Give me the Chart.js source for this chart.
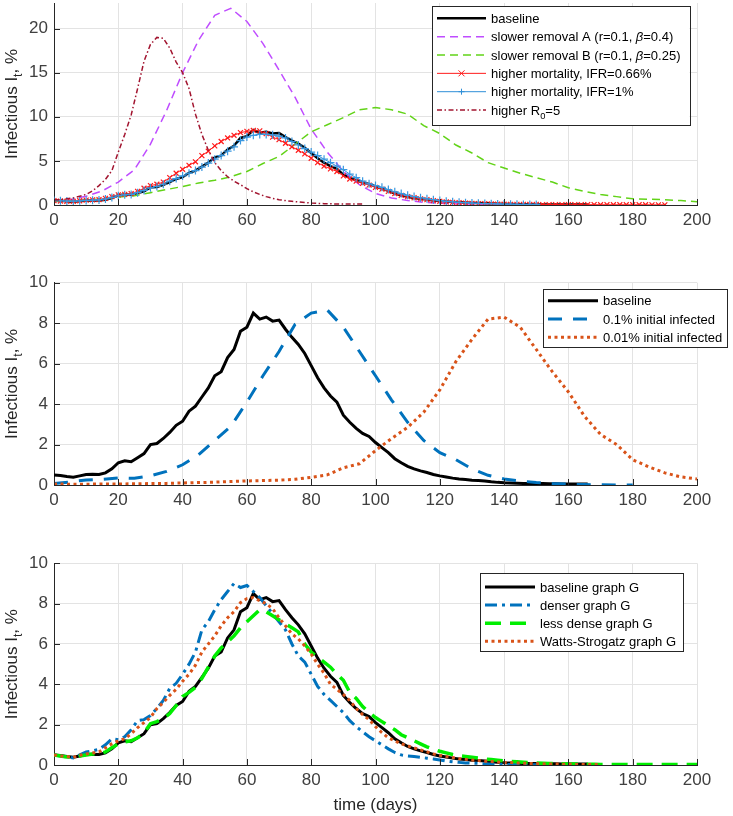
<!DOCTYPE html>
<html>
<head>
<meta charset="utf-8">
<script src="https://cdn.jsdelivr.net/npm/chart.js@4/dist/chart.umd.min.js"></script>
<style>
  html, body { margin: 0; padding: 0; background: #fff; }
  #wrap { position: relative; width: 733px; height: 816px; overflow: hidden; }
  canvas { position: absolute; left: 0; }
</style>
</head>
<body>
<div id="wrap">
  <canvas id="c1" width="733" height="255" style="top:-20px"></canvas>
  <canvas id="c2" width="733" height="265" style="top:250px"></canvas>
  <canvas id="c3" width="733" height="286" style="top:530px"></canvas>
</div>
<script>
// day grids for each simulated series
const dayRange = (a, b, step) => { const r = []; for (let d = a; d <= b; d += step) r.push(d); return r; };

// ---- shared baseline (days 0..166, every 2 days)
const baselineDays = dayRange(0, 166, 2);
const baseline = [0.5,0.47,0.42,0.38,0.45,0.52,0.53,0.52,0.6,0.8,
  1.1,1.2,1.15,1.35,1.55,2.0,2.05,2.3,2.6,2.95,
  3.15,3.65,3.9,4.35,4.8,5.4,5.6,6.3,6.7,7.6,
  7.8,8.5,8.2,8.3,8.1,8.15,7.7,7.3,6.95,6.5,
  5.9,5.3,4.8,4.4,4.1,3.45,3.1,2.8,2.55,2.4,
  2.1,1.85,1.6,1.3,1.1,0.92,0.8,0.7,0.62,0.52,
  0.45,0.4,0.34,0.3,0.27,0.24,0.22,0.2,0.16,0.13,
  0.11,0.1,0.09,0.08,0.08,0.07,0.07,0.06,0.06,0.05,
  0.05,0.05,0.05,0.05];

// ---- panel 1
const slowerADays = dayRange(0, 140, 5);
const slowerA = [0.38,0.6,1.0,1.6,2.6,4.0,6.9,10.7,15.0,18.7,21.5,22.3,20.8,18.3,15.3,12.2,8.6,6.0,3.8,2.3,1.3,0.8,0.5,0.3,0.2,0.15,0.1,0.07,0.05];
const slowerBDays = dayRange(0, 200, 5);
const slowerB = [0.4,0.45,0.55,0.7,0.9,1.05,1.4,1.75,2.1,2.5,2.8,3.2,3.8,4.7,5.5,6.9,8.3,9.1,9.9,10.8,11.05,10.8,10.3,9.0,8.1,6.8,5.9,4.8,4.2,3.6,3.1,2.6,1.95,1.55,1.2,0.95,0.7,0.65,0.6,0.5,0.38];
const ifr066Days = dayRange(0, 190, 2);
const ifr066 = [0.5,0.45,0.42,0.42,0.48,0.55,0.58,0.62,0.75,0.95,
  1.15,1.2,1.3,1.55,1.9,2.2,2.35,2.6,3.1,3.6,
  4.05,4.5,4.9,5.6,6.1,6.7,7.2,7.6,7.9,8.2,
  8.35,8.45,8.4,8.1,7.7,7.4,7.0,6.6,6.2,5.8,
  5.3,4.8,4.4,4.1,3.8,3.3,2.95,2.7,2.45,2.25,
  2.0,1.8,1.55,1.3,1.1,0.95,0.82,0.7,0.6,0.5,
  0.42,0.36,0.3,0.26,0.22,0.19,0.16,0.14,0.12,0.1,
  0.09,0.08,0.07,0.07,0.06,0.06,0.05,0.05,0.05,0.05,
  0.04,0.04,0.04,0.04,0.04,0.03,0.03,0.03,0.03,0.03,
  0.03,0.03,0.03,0.02,0.02,0.02];
const ifr1Days = dayRange(0, 150, 2);
const ifr1 = [0.5,0.48,0.45,0.43,0.47,0.52,0.55,0.58,0.68,0.85,
  1.05,1.15,1.2,1.4,1.65,1.95,2.1,2.35,2.7,3.0,
  3.3,3.6,3.9,4.3,4.75,5.2,5.6,6.1,6.6,7.3,
  7.7,7.9,8.0,8.0,7.95,7.8,7.6,7.2,6.8,6.4,
  6.0,5.6,5.2,4.8,4.4,4.0,3.5,3.1,2.7,2.4,
  2.2,2.0,1.75,1.5,1.3,1.1,0.95,0.82,0.7,0.6,
  0.5,0.42,0.36,0.3,0.26,0.22,0.19,0.16,0.14,0.12,
  0.1,0.09,0.08,0.07,0.06,0.06];
const highR0Days = dayRange(0, 96, 2);
const highR0 = [0.57,0.6,0.7,0.8,1.0,1.2,1.6,2.2,2.9,3.9,
  6.0,8.0,10.2,13.2,16.3,18.2,19.0,18.9,17.8,16.2,
  15.0,13.2,10.3,8.0,6.2,4.8,3.9,3.2,2.7,2.3,
  1.85,1.5,1.2,0.95,0.75,0.6,0.5,0.42,0.35,0.28,
  0.22,0.18,0.15,0.13,0.12,0.11,0.1,0.1,0.1];

// ---- panel 2
const init01Days = dayRange(0, 180, 5);
const init01 = [0.08,0.15,0.25,0.28,0.35,0.33,0.45,0.67,1.0,1.5,2.2,2.9,4.1,5.4,6.6,7.95,8.5,8.65,7.8,6.6,5.4,4.2,3.1,2.2,1.6,1.25,0.8,0.48,0.3,0.2,0.12,0.07,0.04,0.02,0.01,0.0,0.0];
const init001Days = dayRange(0, 200, 5);
const init001 = [0.05,0.04,0.04,0.05,0.05,0.06,0.07,0.08,0.1,0.12,0.14,0.17,0.2,0.22,0.24,0.28,0.38,0.5,0.85,1.05,1.7,2.3,2.85,3.6,4.7,6.1,7.2,8.2,8.3,7.8,6.7,5.6,4.6,3.4,2.5,2.0,1.25,0.9,0.6,0.4,0.3];

// ---- panel 3
const denserDays = dayRange(0, 152, 2);
const denser = [0.5,0.45,0.4,0.35,0.5,0.65,0.7,0.78,1.0,1.3,
  1.25,1.4,1.75,2.2,2.25,2.45,2.8,3.2,3.8,4.05,
  4.5,5.0,5.6,6.7,7.1,7.7,8.2,8.6,9.0,8.8,
  8.9,8.6,8.3,7.9,7.5,7.1,6.7,6.0,5.4,5.1,
  4.5,3.9,3.5,3.2,2.9,2.6,2.2,1.9,1.65,1.4,
  1.2,1.0,0.8,0.62,0.5,0.45,0.42,0.38,0.34,0.3,
  0.25,0.2,0.16,0.13,0.1,0.09,0.08,0.06,0.05,0.04,
  0.03,0.03,0.02,0.02,0.01,0.01,0.01];
const lessDenseDays = dayRange(0, 200, 2);
const lessDense = [0.5,0.45,0.4,0.38,0.45,0.5,0.55,0.55,0.65,0.85,
  1.05,1.15,1.2,1.35,1.6,2.05,2.15,2.3,2.55,2.95,
  3.4,3.6,3.85,4.3,4.85,5.4,5.8,6.1,6.4,6.8,
  7.1,7.4,7.7,7.6,7.4,7.2,7.0,6.8,6.6,6.0,
  5.6,5.35,5.1,4.85,4.5,4.2,3.6,3.3,2.9,2.6,
  2.35,2.15,1.95,1.75,1.5,1.35,1.2,1.05,0.9,0.78,
  0.68,0.6,0.52,0.46,0.42,0.38,0.34,0.3,0.27,0.24,
  0.2,0.18,0.16,0.14,0.12,0.1,0.09,0.08,0.07,0.06,
  0.05,0.05,0.04,0.04,0.04,0.03,0.03,0.03,0.03,0.03,
  0.02,0.02,0.02,0.02,0.02,0.02,0.02,0.02,0.02,0.02,
  0.02];
const wattsDays = dayRange(0, 170, 2);
const watts = [0.5,0.45,0.42,0.38,0.48,0.55,0.6,0.65,0.85,1.05,
  1.2,1.3,1.55,1.85,2.1,2.35,2.8,3.1,3.45,3.75,
  4.15,4.5,4.95,5.6,6.0,6.4,6.9,7.3,7.6,8.05,
  8.25,8.3,8.15,8.0,7.75,7.3,6.9,6.5,6.25,5.9,
  5.5,5.0,4.55,4.0,3.75,3.5,3.2,2.8,2.5,2.25,
  1.9,1.6,1.35,1.2,1.05,0.95,0.85,0.75,0.65,0.55,
  0.48,0.42,0.37,0.32,0.28,0.25,0.22,0.19,0.17,0.15,
  0.13,0.12,0.1,0.09,0.08,0.07,0.06,0.05,0.05,0.04,
  0.04,0.03,0.03,0.02,0.02,0.02];

const xTicks = { min: 0, max: 200, step: 20 };
const yLabel = 'Infectious I_t, %';
const xLabel = 'time (days)';

const FONT = "'Liberation Sans', Arial, Helvetica, sans-serif";
Chart.defaults.font.family = FONT;

const pts = (days, vals) => vals.map((v, i) => ({ x: days[i], y: v }));

// little rich-text helper: "_x" = subscript, β drawn italic
function runs(str) {
  const out = [];
  for (let i = 0; i < str.length; i++) {
    const c = str[i];
    if (c === '_') { out.push({ t: str[i + 1], sub: true }); i++; continue; }
    if (c === 'β') { out.push({ t: c, it: true }); continue; }
    const last = out[out.length - 1];
    if (last && !last.sub && !last.it) last.t += c; else out.push({ t: c });
  }
  return out;
}
function runFont(r, size) { return (r.it ? 'italic ' : '') + (r.sub ? size * 0.72 : size) + 'px ' + FONT; }
function richWidth(ctx, str, size) {
  let w = 0;
  for (const r of runs(str)) { ctx.font = runFont(r, size); w += ctx.measureText(r.t).width; }
  return w;
}
function drawRich(ctx, str, x, y, size) {
  for (const r of runs(str)) {
    ctx.font = runFont(r, size);
    ctx.fillText(r.t, x, r.sub ? y + size * 0.32 : y);
    x += ctx.measureText(r.t).width;
  }
}
function marker(ctx, style, x, y, r) {
  ctx.beginPath();
  if (style === 'crossRot') {
    ctx.moveTo(x - r, y - r); ctx.lineTo(x + r, y + r);
    ctx.moveTo(x - r, y + r); ctx.lineTo(x + r, y - r);
  } else if (style === 'cross') {
    ctx.moveTo(x - r, y); ctx.lineTo(x + r, y);
    ctx.moveTo(x, y - r); ctx.lineTo(x, y + r);
  }
  ctx.stroke();
}

const decor = {
  id: 'decor',
  afterDraw(chart) {
    const { ctx, chartArea: a, scales: { x, y } } = chart;
    const lg = chart.options.plugins.decor;
    ctx.save();
    // inward tick marks
    ctx.strokeStyle = '#262626'; ctx.lineWidth = 1; ctx.setLineDash([]);
    ctx.beginPath();
    x.ticks.forEach(t => { const px = Math.round(x.getPixelForValue(t.value)) + 0.5; ctx.moveTo(px, a.bottom); ctx.lineTo(px, a.bottom - 6); });
    y.ticks.forEach(t => { const py = Math.round(y.getPixelForValue(t.value)) + 0.5; ctx.moveTo(a.left, py); ctx.lineTo(a.left + 6, py); });
    ctx.stroke();

    // y label (rotated, with subscript)
    ctx.fillStyle = '#262626'; ctx.textBaseline = 'alphabetic';
    const w = richWidth(ctx, yLabel, 17);
    ctx.save();
    ctx.translate(17, (a.top + a.bottom) / 2);
    ctx.rotate(-Math.PI / 2);
    drawRich(ctx, yLabel, -w / 2, 0, 17);
    ctx.restore();

    // legend box
    const sets = chart.data.datasets;
    let tw = 0;
    sets.forEach(d => { tw = Math.max(tw, richWidth(ctx, d.label, 13)); });
    const boxW = lg.tx + tw + lg.padR - lg.x;
    ctx.fillStyle = '#fff';
    ctx.fillRect(lg.x, lg.y, boxW, lg.h);
    ctx.strokeStyle = '#262626'; ctx.lineWidth = 1;
    ctx.strokeRect(Math.round(lg.x) + 0.5, Math.round(lg.y) + 0.5, Math.round(boxW), Math.round(lg.h));
    sets.forEach((d, i) => {
      const ry = lg.row0 + i * lg.rowStep;
      ctx.strokeStyle = d.borderColor; ctx.lineWidth = d.borderWidth;
      ctx.setLineDash(d.borderDash || []);
      ctx.beginPath(); ctx.moveTo(lg.sx0, ry); ctx.lineTo(lg.sx1, ry); ctx.stroke();
      ctx.setLineDash([]);
      if (d.pointRadius > 0) { ctx.lineWidth = 1; marker(ctx, d.pointStyle, (lg.sx0 + lg.sx1) / 2, ry, 3); }
      ctx.fillStyle = '#000';
      drawRich(ctx, d.label, lg.tx, ry + 4.6, 13);
    });
    ctx.restore();
  }
};

function line(label, days, vals, color, width, dash, extra) {
  return Object.assign({
    label, data: pts(days, vals), borderColor: color, backgroundColor: color,
    borderWidth: width, borderDash: dash, pointRadius: 0, tension: 0, fill: false
  }, extra || {});
}

function makeChart(id, datasets, o) {
  datasets.forEach((d, i) => { d.order = -i; }); // later series on top, as in the source
  return new Chart(document.getElementById(id), {
    type: 'line',
    data: { datasets },
    plugins: [decor],
    options: {
      responsive: false, animation: false,
      layout: { padding: { top: o.padTop, right: 36, left: 0, bottom: 0 } },
      plugins: { legend: { display: false }, tooltip: { enabled: false }, decor: o.legend },
      scales: {
        x: {
          type: 'linear', min: xTicks.min, max: xTicks.max,
          ticks: { stepSize: xTicks.step, padding: 5, color: '#404040', font: { size: 17 }, maxRotation: 0 },
          grid: { color: '#e3e3e3', drawTicks: false },
          border: { color: '#262626' },
          title: { display: !!o.xTitle, text: xLabel, color: '#262626', font: { size: 17 }, padding: { top: 6, bottom: 0 } },
          afterFit(s) { s.height = o.xAxisH; }
        },
        y: {
          type: 'linear', min: 0, max: o.yMax,
          ticks: { stepSize: o.yStep, includeBounds: false, padding: 6, color: '#404040', font: { size: 17 } },
          grid: { color: '#e3e3e3', drawTicks: false },
          border: { color: '#262626' },
          afterFit(s) { s.width = 54; }
        }
      }
    }
  });
}

makeChart('c1', [
  line('baseline', baselineDays, baseline, '#000000', 2.5, []),
  line('slower removal A (r=0.1, β=0.4)', slowerADays, slowerA, '#bf4dff', 1.5, [8, 5]),
  line('slower removal B (r=0.1, β=0.25)', slowerBDays, slowerB, '#62d318', 1.5, [8, 5]),
  line('higher mortality, IFR=0.66%', ifr066Days, ifr066, '#ff1a1a', 1, [], { pointRadius: 3.5, pointStyle: 'crossRot', pointBorderWidth: 1.2, pointBorderColor: '#ff1a1a' }),
  line('higher mortality, IFR=1%', ifr1Days, ifr1, '#2f8fd8', 1, [], { pointRadius: 4, pointStyle: 'cross', pointBorderWidth: 1.2, pointBorderColor: '#3a98e0' }),
  line('higher R_0=5', highR0Days, highR0, '#a2142f', 1.5, [5, 2.5, 1.5, 2.5])
], { padTop: 23, xAxisH: 30, yMax: 22.9, yStep: 5,
     legend: { x: 432, y: 26, h: 119, row0: 38.3, rowStep: 18.35, sx0: 437, sx1: 486, tx: 491, padR: 9 } });

makeChart('c2', [
  line('baseline', baselineDays, baseline, '#000000', 3, []),
  line('0.1% initial infected', init01Days, init01, '#0072bd', 3, [14, 11]),
  line('0.01% initial infected', init001Days, init001, '#d95319', 3, [3, 3.5])
], { padTop: 32.7, xAxisH: 30, yMax: 10, yStep: 2,
     legend: { x: 543, y: 39, h: 58, row0: 50.7, rowStep: 18.3, sx0: 548, sx1: 598, tx: 603, padR: 5 } });

makeChart('c3', [
  line('baseline graph G', baselineDays, baseline, '#000000', 3, []),
  line('denser graph G', denserDays, denser, '#0072bd', 3, [12, 5, 3, 5]),
  line('less dense graph G', lessDenseDays, lessDense, '#00ee00', 3.5, [16, 9]),
  line('Watts-Strogatz graph G', wattsDays, watts, '#d95319', 3, [3, 3.5])
], { padTop: 33.3, xAxisH: 51, yMax: 10, yStep: 2, xTitle: true,
     legend: { x: 480, y: 43, h: 78, row0: 57, rowStep: 18.1, sx0: 485, sx1: 535, tx: 540, padR: 7 } });
</script>
</body>
</html>
